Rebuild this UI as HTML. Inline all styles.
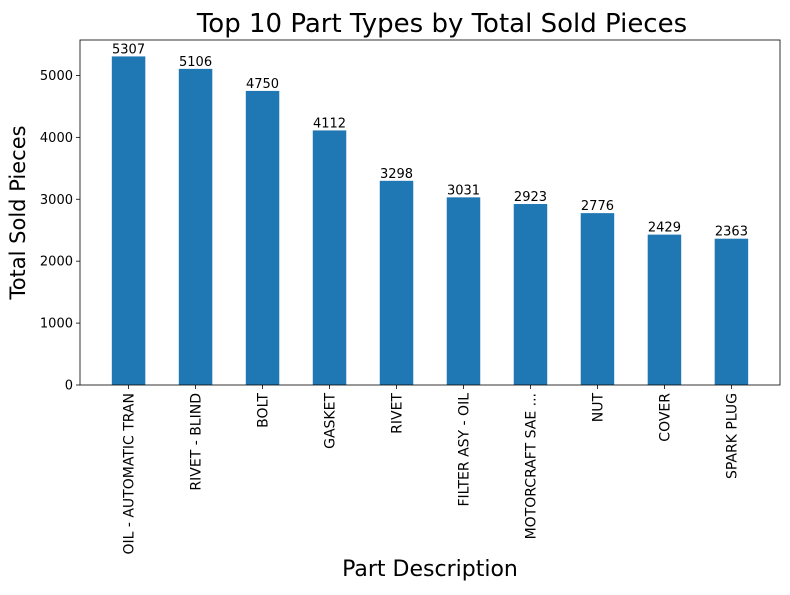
<!DOCTYPE html>
<html><head><meta charset="utf-8"><style>
body{margin:0;background:#fff;}
svg text{font-family:"DejaVu Sans","Liberation Sans",sans-serif;}
</style></head><body>
<svg id="chart" width="790" height="590" viewBox="0 0 790 590">
<rect width="790" height="590" fill="#fff"/>
<g id="plot"></g>
</svg>
<script>
const categories=["OIL - AUTOMATIC TRAN","RIVET - BLIND","BOLT","GASKET","RIVET","FILTER ASY - OIL","MOTORCRAFT SAE ...","NUT","COVER","SPARK PLUG"];
const values=[5307,5106,4750,4112,3298,3031,2923,2776,2429,2363];
const yTicks=[0,1000,2000,3000,4000,5000];
const L=80,R=780,T=40,B=385;
const yMax=Math.max(...values)*1.05;
const xMin=-0.725,xMax=categories.length-1+0.725;
const x=i=>L+(i-xMin)/(xMax-xMin)*(R-L);
const y=v=>B-v/yMax*(B-T);
const ns="http://www.w3.org/2000/svg";
const g=document.getElementById('plot');
function mk(t,a,txt){const e=document.createElementNS(ns,t);for(const k in a)e.setAttribute(k,a[k]);if(txt!==undefined)e.textContent=txt;g.appendChild(e);return e;}
const bw=0.5*(R-L)/(xMax-xMin);
values.forEach((v,i)=>{
 const r=mk('rect',{x:x(i)-bw/2,y:y(v),width:bw,height:B-y(v),fill:'#1f77b4'});
 
 
 const t=mk('text',{x:x(i),y:y(v)-3,'text-anchor':'middle','font-size':13,fill:'#000'},String(v));
 
 
 const tk=mk('line',{x1:x(i),x2:x(i),y1:B,y2:B+4,stroke:'#000','stroke-width':0.8});
 
 
 const lb=mk('text',{transform:`translate(${x(i)+5},${B+8}) rotate(-90)`,'text-anchor':'end','font-size':14,fill:'#000'},categories[i]);
 
 
});
yTicks.forEach(v=>{
 const tk=mk('line',{x1:L-4,x2:L,y1:y(v),y2:y(v),stroke:'#000','stroke-width':0.8});
 
 
 const lb=mk('text',{x:L-7,y:y(v)+4.5,'text-anchor':'end','font-size':13,fill:'#000'},String(v));
 
 
});
const fr=mk('rect',{x:L,y:T,width:R-L,height:B-T,fill:'none',stroke:'#000','stroke-width':0.8});


const ti=mk('text',{x:442,y:32,'text-anchor':'middle','font-size':26,fill:'#000'},'Top 10 Part Types by Total Sold Pieces');


const xt=mk('text',{x:(L+R)/2,y:576,'text-anchor':'middle','font-size':22,fill:'#000'},'Part Description');


const yt=mk('text',{transform:`translate(25,${(T+B)/2}) rotate(-90)`,'text-anchor':'middle','font-size':21,fill:'#000'},'Total Sold Pieces');


</script>
</body></html>
